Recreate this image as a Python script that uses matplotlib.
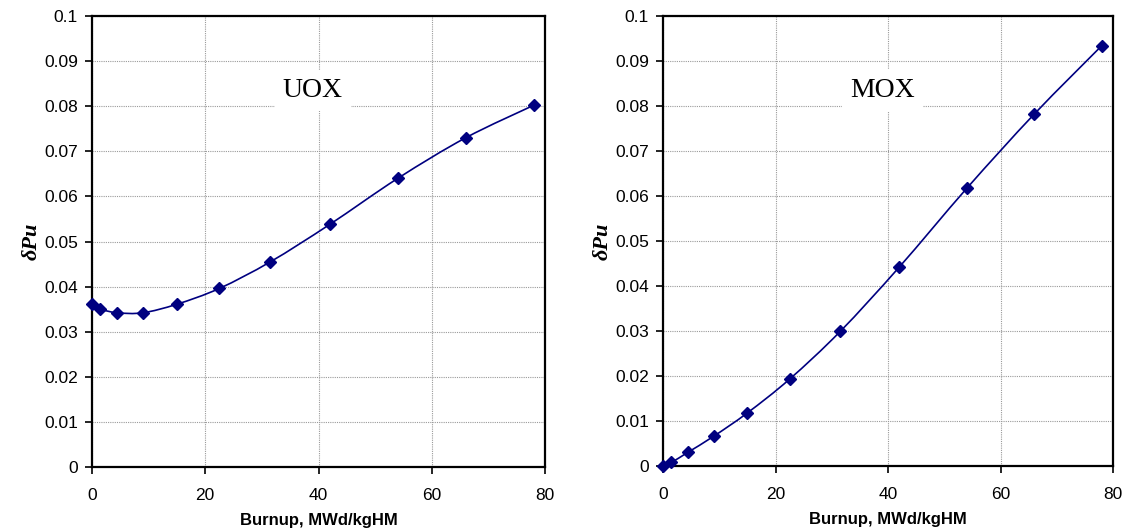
import numpy as np
import matplotlib
matplotlib.use("Agg")
import matplotlib.pyplot as plt
from matplotlib.path import Path
from matplotlib.patches import PathPatch

# Burnup steps (MWd/kgHM) and the Pu-content correction at each step
burnup = [0, 1.5, 4.5, 9, 15, 22.5, 31.5, 42, 54, 66, 78]
dpu_uox = [0.0362, 0.0350, 0.0342, 0.0342, 0.0361, 0.0396,
           0.0455, 0.0538, 0.0640, 0.0730, 0.0802]
dpu_mox = [0.0, 0.0008, 0.0031, 0.0066, 0.0118, 0.0193,
           0.0299, 0.0442, 0.0617, 0.0782, 0.0934]
panel_names = ["UOX", "MOX"]

x_ticks = [0, 20, 40, 60, 80]
y_ticks = [0, 0.01, 0.02, 0.03, 0.04, 0.05, 0.06, 0.07, 0.08, 0.09, 0.1]
y_tick_labels = ["0", "0.01", "0.02", "0.03", "0.04", "0.05",
                 "0.06", "0.07", "0.08", "0.09", "0.1"]

NAVY = "#000080"

plt.rcParams["font.family"] = ["Liberation Sans", "DejaVu Sans"]


def smooth_path(x, y, tension=1 / 6):
    """Bezier path through the points, like a spreadsheet 'smoothed line'."""
    pts = np.column_stack([x, y]).astype(float)
    n = len(pts)
    verts = [pts[0]]
    codes = [Path.MOVETO]
    for i in range(n - 1):
        p0 = pts[i - 1] if i > 0 else pts[i]
        p1 = pts[i]
        p2 = pts[i + 1]
        p3 = pts[i + 2] if i + 2 < n else pts[i + 1]
        c1 = p1 + (p2 - p0) * tension
        c2 = p2 - (p3 - p1) * tension
        verts += [c1, c2, p2]
        codes += [Path.CURVE4] * 3
    return Path(verts, codes)


fig = plt.figure(figsize=(11.3, 5.32), dpi=100)
ax_left = fig.add_axes([92 / 1130, 1 - 467 / 532, 453 / 1130, 451 / 532])
ax_right = fig.add_axes([663 / 1130, 1 - 466 / 532, 450 / 1130, 450 / 532])

for ax, values, name in zip([ax_left, ax_right], [dpu_uox, dpu_mox], panel_names):
    ax.set_xlim(0, 80)
    ax.set_ylim(0, 0.1)
    ax.set_xticks(x_ticks)
    ax.set_yticks(y_ticks)
    ax.set_yticklabels(y_tick_labels)
    ax.grid(True, color="#9a9a9a", linestyle=(0, (1, 1)), linewidth=0.8)
    ax.set_axisbelow(True)
    for side in ax.spines.values():
        side.set_linewidth(1.6)
        side.set_color("black")
    ax.tick_params(axis="both", direction="out", length=5, width=1.2,
                   labelsize=12.5)
    ax.tick_params(axis="x", pad=10)
    ax.tick_params(axis="y", pad=5)

    # fitted curve through the points (clip off so the markers on the frame show)
    patch = PathPatch(smooth_path(burnup, values), facecolor="none",
                      edgecolor=NAVY, linewidth=1.2, clip_on=False)
    ax.add_patch(patch)
    ax.plot(burnup, values, linestyle="none", marker="D", markersize=6.5,
            color=NAVY, clip_on=False, zorder=5)

    ax.text(39, 0.0835, name, ha="center", va="center", fontsize=20,
            family=["Liberation Serif", "DejaVu Serif"],
            bbox=dict(facecolor="white", edgecolor="none", pad=6))

    ax.set_xlabel("Burnup, MWd/kgHM", fontsize=12, fontweight="bold", labelpad=7)
    ax.set_ylabel("δPu", fontsize=16, fontweight="bold", fontstyle="italic",
                  family=["Liberation Serif", "DejaVu Serif"], labelpad=2)

fig.savefig("out.png", dpi=100)
